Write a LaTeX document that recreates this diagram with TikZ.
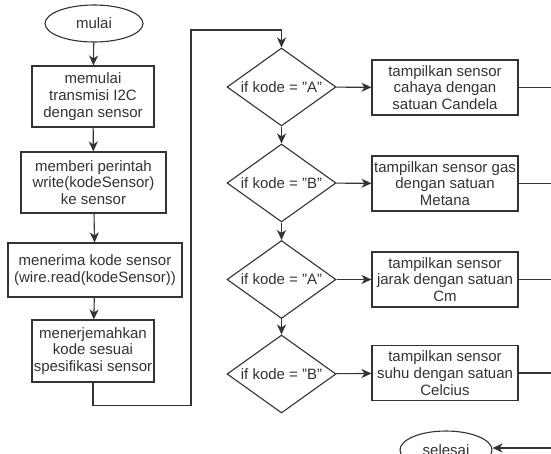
\documentclass[tikz,border=0pt]{standalone}
\usepackage{fontspec}
\setmainfont{Liberation Sans}
\usetikzlibrary{shapes.geometric,arrows.meta}
\definecolor{ink}{HTML}{333333}
\tikzset{
  base/.style={draw=ink, line width=1.1pt, text=ink, align=center, inner sep=0pt,
    font=\fontsize{15}{16.7}\selectfont},
  procbox/.style={base, rectangle},
  terminal/.style={base, ellipse, minimum width=98pt, minimum height=37pt},
  decision/.style={base, diamond, aspect=1.4, minimum width=109pt, minimum height=78pt},
  flow/.style={draw=ink, line width=1.1pt, -{Stealth[length=10pt,width=9pt,inset=3pt]}},
  plain/.style={draw=ink, line width=1.1pt}
}
\begin{document}
\begin{tikzpicture}[x=1pt, y=-1pt]
\useasboundingbox[fill=white] (0,0) rectangle (551,453);

% left column: setup and reading of the sensor
\node[terminal] (mulai) at (94,23.5) {mulai};
\node[procbox, minimum width=122pt, minimum height=61pt] (p1) at (93,96.5)
  {memulai\\transmisi I2C\\dengan sensor};
\node[procbox, minimum width=145pt, minimum height=61pt] (p2) at (93.5,182.5)
  {memberi perintah\\write(kodeSensor)\\ke sensor};
\node[procbox, minimum width=174pt, minimum height=54pt] (p3) at (95,270)
  {menerima kode sensor\\(wire.read(kodeSensor))};
\node[procbox, minimum width=122pt, minimum height=62pt] (p4) at (93,351)
  {menerjemahkan\\kode sesuai\\spesifikasi sensor};

% decisions
\node[decision] (d1) at (281.5,87) {if kode = "A"};
\node[decision] (d2) at (281.5,183) {if kode = "B"};
\node[decision] (d3) at (281.5,279.5) {if kode = "A"};
\node[decision] (d4) at (281.5,374) {if kode = "B"};

% outputs
\node[procbox, minimum width=146pt, minimum height=55pt] (o1) at (445,87.5)
  {tampilkan sensor\\cahaya dengan\\satuan Candela};
\node[procbox, minimum width=146pt, minimum height=55pt] (o2) at (445,183.5)
  {tampilkan sensor gas\\dengan satuan\\Metana};
\node[procbox, minimum width=146pt, minimum height=55pt] (o3) at (445,279.5)
  {tampilkan sensor\\jarak dengan satuan\\Cm};
\node[procbox, minimum width=146pt, minimum height=55pt] (o4) at (445,373)
  {tampilkan sensor\\suhu dengan satuan\\Celcius};

\node[terminal, minimum width=92pt, minimum height=38pt] (selesai) at (446,450) {selesai};

% connector ends at the right edge
\coordinate (e1) at (551,87.5);
\coordinate (e2) at (551,183.5);
\coordinate (e3) at (551,279.5);
\coordinate (e4) at (551,373);
\coordinate (e5) at (551,448);

% left column flow
\draw[flow] (mulai) -- (p1);
\draw[flow] (p1) -- (p2);
\draw[flow] (p2) -- (p3);
\draw[flow] (p3) -- (p4);
\draw[flow] (p4.south) -- ++(0,23) -| (191,30) -| (d1.north);

% decision chain
\draw[flow] (d1) -- (d2);
\draw[flow] (d2) -- (d3);
\draw[flow] (d3) -- (d4);

\draw[flow] (d1) -- (o1);
\draw[flow] (d2) -- (o2);
\draw[flow] (d3) -- (o3);
\draw[flow] (d4) -- (o4);

\draw[plain] (o1) -- (e1);
\draw[plain] (o2) -- (e2);
\draw[plain] (o3) -- (e3);
\draw[plain] (o4) -- (e4);
\draw[flow] (e5) -- (selesai.east |- e5);
\end{tikzpicture}
\end{document}
